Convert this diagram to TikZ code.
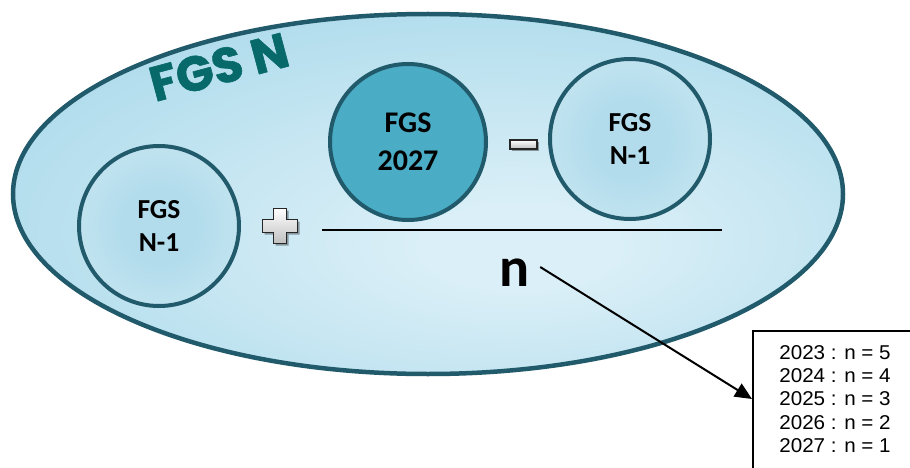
\documentclass[tikz,border=0pt]{standalone}
\usepackage{fontspec}
\setmainfont{Carlito}
\newfontfamily\titlefont[FakeBold=1.2]{Poppins}
\newfontfamily\boxfont[FakeStretch=1.03]{Liberation Sans}
\usetikzlibrary{shapes.geometric,arrows.meta,calc}

\definecolor{rimteal}{HTML}{215A6B}
\definecolor{titlegreen}{HTML}{08696A}
\definecolor{bigin}{HTML}{DAEFF7}
\definecolor{bigout}{HTML}{93CFE5}
\definecolor{smallin}{HTML}{B2DCEC}
\definecolor{smallout}{HTML}{DEF0F7}
\definecolor{darkfill}{HTML}{4AACC5}
\definecolor{signgray}{HTML}{BFBFBF}

% soft glow of the outer set, a little off-centre
\pgfdeclareradialshading{bigglow}{\pgfpoint{6bp}{-8bp}}{color(0bp)=(bigin); color(6bp)=(bigin); color(50bp)=(bigout); color(75bp)=(bigout)}
% glow of the two light circles: bluer in the middle, paler at the rim
\pgfdeclareradialshading{smallglow}{\pgfpoint{0bp}{0bp}}{color(0bp)=(smallin); color(12bp)=(smallin); color(50bp)=(smallout); color(75bp)=(smallout)}

\tikzset{
  outerset/.style={ellipse, draw=rimteal, line width=4.5pt, shading=bigglow, shade, inner sep=0pt},
  lightball/.style={circle, draw=rimteal, line width=4pt, shading=smallglow, shade,
    minimum size=160pt, inner sep=0pt, align=center, font=\bfseries\fontsize{27.5}{33}\selectfont},
  darkball/.style={circle, draw=rimteal, line width=4pt, fill=darkfill,
    minimum size=156pt, inner sep=0pt, align=center, font=\bfseries\fontsize{30}{38}\selectfont},
  opsign/.style={draw=black!85, line width=1.3pt, top color=white, bottom color=signgray},
  opshadow/.style={fill=black, opacity=.35},
  pointer/.style={line width=2pt, -{Triangle[length=17pt,width=15pt]}},
}

\begin{document}
\begin{tikzpicture}[x=1pt, y=-1pt]
\useasboundingbox (0,0) rectangle (910,468);
\clip (0,0) rectangle (910,468);
\fill[white] (0,0) rectangle (910,468);

% the whole set
\node[outerset, minimum width=830pt, minimum height=360pt] (setN) at (428,194) {};
\node[rotate=15, text=titlegreen, inner sep=0pt, font=\titlefont\bfseries\fontsize{49}{52}\selectfont] (title) at (219,67) {FGS N};

% the three terms
\node[lightball] (prev) at (159,226) {FGS\\N-1};
\node[darkball] (cur) at (408,142) {FGS\\2027};
\node[lightball] (prevB) at (630,139) {FGS\\N-1};

% plus sign
\begin{scope}[shift={(282,228)}]
  \fill[opshadow] (-6.5,-17.5) -- (6.5,-17.5) -- (6.5,-6.5) -- (17.5,-6.5) -- (17.5,6.5) -- (6.5,6.5) -- (6.5,17.5) -- (-6.5,17.5) -- (-6.5,6.5) -- (-17.5,6.5) -- (-17.5,-6.5) -- (-6.5,-6.5) -- cycle;
\end{scope}
\begin{scope}[shift={(280,226)}]
  \path[opsign] (-6.5,-17.5) -- (6.5,-17.5) -- (6.5,-6.5) -- (17.5,-6.5) -- (17.5,6.5) -- (6.5,6.5) -- (6.5,17.5) -- (-6.5,17.5) -- (-6.5,6.5) -- (-17.5,6.5) -- (-17.5,-6.5) -- (-6.5,-6.5) -- cycle;
\end{scope}

% minus sign
\fill[opshadow] (512,142) rectangle (539,151);
\path[opsign] (510,140) rectangle (537,149);

% fraction bar and denominator
\draw[line width=1.5pt] (322,230) -- (722,230);
\node[font=\bfseries\fontsize{56}{56}\selectfont, inner sep=0pt] (nlabel) at (515,273) {n};

% legend box with the values of n
\node[draw, fill=white, line width=1.8pt, anchor=north west, minimum width=200pt, minimum height=200pt] (box) at (752,330) {};
\node[font=\boxfont\fontsize{20}{23.4}\selectfont, align=center, inner sep=0pt] (years) at (835,399)
  {2023 : n = 5\\2024 : n = 4\\2025 : n = 3\\2026 : n = 2\\2027 : n = 1};

\coordinate (ntail) at ($(nlabel.east)+(10,-6)$);
\coordinate (tip) at ($(box.north west)+(0,69)$);
\draw[pointer] (ntail) -- (tip);
\end{tikzpicture}
\end{document}
